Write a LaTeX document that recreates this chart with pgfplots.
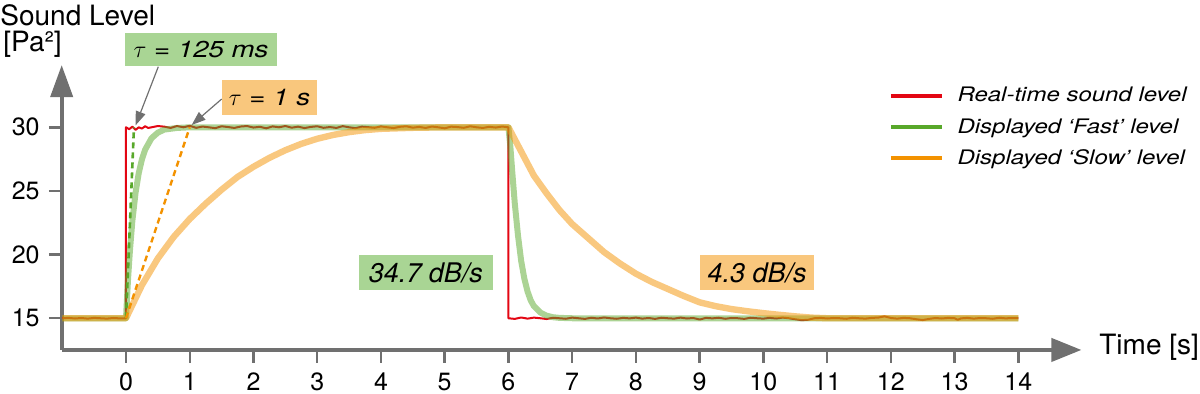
\documentclass[border=0pt]{standalone}
\usepackage{fontspec}
\setmainfont{TeX Gyre Heros}
\newfontfamily\legfont[FakeStretch=1.2]{TeX Gyre Heros}
\usepackage{pgfplots}
\pgfplotsset{compat=1.18}
\usetikzlibrary{arrows.meta}
\definecolor{cred}{RGB}{227,6,19}
\definecolor{cgreen}{RGB}{88,168,42}
\definecolor{corange}{RGB}{243,146,0}
\definecolor{axgray}{RGB}{112,112,112}
\definecolor{boxgreen}{RGB}{169,213,148}
\definecolor{boxorange}{RGB}{249,199,125}
\begin{document}
\begin{tikzpicture}
\begin{axis}[
  x=31.87pt, y=6.365pt,
  xmin=-1.009, xmax=14.99, ymin=12.51, ymax=34.89,
  axis lines=left,
  axis line style={line width=2pt, color=axgray},
  x axis line style={-{Triangle[length=15pt,width=11.5pt]}},
  y axis line style={-{Triangle[length=16pt,width=11pt]}},
  xtick={0,1,2,3,4,5,6,7,8,9,10,11,12,13,14},
  ytick={15,20,25,30},
  tick align=outside,
  major tick length=6.4pt,
  tick style={line width=1.2pt, color=axgray},
  /pgf/number format/assume math mode=true,
  xticklabel style={anchor=base, font=\fontsize{12.5}{15}\selectfont, yshift=-13.9pt},
  yticklabel style={anchor=east, inner sep=0pt, font=\fontsize{12.5}{15}\selectfont, xshift=-4.45pt},
  clip=false,
]
% real-time level
\addplot[cred, line width=1pt, line join=round] coordinates {
(-1.0,15.0) (-0.9,15.03) (-0.8,14.98) (-0.7,15.02) (-0.6,14.97) (-0.5,15.03) (-0.4,15.0) (-0.3,14.97) (-0.2,15.02) (-0.1,14.99) (0.0,15.0)
(0.0,30.0) (0.05,29.85) (0.1,30.05) (0.15,29.8) (0.2,30.0) (0.25,29.9) (0.3,30.08) (0.35,29.95) (0.4,30.0) (0.5,30.1)
(0.6,30.05) (0.7,29.95) (0.8,30.1) (0.9,30.0) (1.0,30.12) (1.1,29.96) (1.2,30.06) (1.3,30.0) (1.4,29.93) (1.5,30.08)
(1.6,30.02) (1.7,29.95) (1.8,30.06) (1.9,30.1) (2.0,29.98) (2.1,30.04) (2.2,29.92) (2.3,30.07) (2.4,30.0) (2.5,30.1)
(2.6,29.97) (2.7,30.05) (2.8,29.94) (2.9,30.03) (3.0,30.08) (3.1,29.96) (3.2,30.02) (3.3,29.95) (3.4,30.09) (3.5,30.0)
(3.6,29.93) (3.7,30.05) (3.8,30.01) (3.9,29.96) (4.0,30.07) (4.1,30.0) (4.2,29.94) (4.3,30.04) (4.4,30.08) (4.5,29.97)
(4.6,30.03) (4.7,29.95) (4.8,30.06) (4.9,30.0) (5.0,29.92) (5.1,30.05) (5.2,30.02) (5.3,29.96) (5.4,30.08) (5.5,30.0)
(5.6,29.95) (5.7,30.04) (5.8,29.98) (5.9,30.06) (6.0,30.0)
(6.0,15.0) (6.1,14.95) (6.2,15.06) (6.3,14.97) (6.4,15.05) (6.5,15.0) (6.6,14.94) (6.7,15.04) (6.8,15.0) (6.9,14.96)
(7.0,15.05) (7.1,15.0) (7.2,14.95) (7.3,15.04) (7.4,14.98) (7.5,15.06) (7.6,15.0) (7.7,14.96) (7.8,15.03) (7.9,14.99)
(8.0,15.05) (8.1,14.97) (8.2,15.02) (8.3,14.95) (8.4,15.04) (8.5,15.0) (8.6,14.97) (8.7,15.05) (8.8,14.98) (8.9,15.02)
(9.0,14.9) (9.1,15.03) (9.2,14.99) (9.3,15.04) (9.4,14.96) (9.5,15.02) (9.6,15.0) (9.7,14.95) (9.8,15.04) (9.9,15.0)
(10.0,14.97) (10.1,15.03) (10.2,14.98) (10.3,15.05) (10.4,15.0) (10.5,14.92) (10.6,14.85) (10.7,14.88) (10.8,15.0) (10.9,15.03)
(11.0,14.98) (11.1,15.02) (11.2,15.0) (11.3,14.96) (11.4,15.04) (11.5,15.0) (11.6,14.97) (11.7,15.03) (11.8,15.05) (11.9,15.15)
(12.0,15.02) (12.1,14.97) (12.2,15.03) (12.3,15.0) (12.4,14.92) (12.5,14.86) (12.6,14.95) (12.7,15.02) (12.8,14.98) (12.9,15.03)
(13.0,15.0) (13.05,14.88) (13.1,14.99) (13.2,15.03) (13.3,14.97) (13.4,15.02) (13.5,15.0) (13.6,14.96) (13.7,15.04) (13.8,14.99)
(13.9,15.02) (14.0,15.0)
};
% fast
\addplot[cgreen, opacity=0.5, line width=3pt, line join=round] coordinates {
(-1,15) (0,15) (0.03,17.9) (0.06,20.2) (0.1,22.65) (0.15,24.86) (0.2,26.4) (0.25,27.48) (0.3,28.24) (0.4,29.14)
(0.5,29.58) (0.6,29.82) (0.8,29.95) (1.0,30) (6.0,30) (6.03,28.5) (6.06,26.5) (6.1,24.0) (6.15,21.5) (6.2,19.5)
(6.25,18.1) (6.3,17.1) (6.35,16.4) (6.4,15.95) (6.5,15.45) (6.6,15.2) (6.7,15.08) (6.8,15.03) (7.0,15.0) (14,15)
};
% slow
\addplot[corange, opacity=0.5, line width=3.2pt, line join=round] coordinates {
(-1,15) (0,15) (0.25,17.6) (0.5,19.7) (0.75,21.4) (1.0,22.8) (1.25,24.0) (1.5,25.1) (1.75,26.1) (2.0,26.9)
(2.25,27.6) (2.5,28.2) (2.75,28.7) (3.0,29.1) (3.25,29.4) (3.5,29.62) (3.75,29.78) (4.0,29.88) (4.5,29.96) (5.0,30.0)
(6.0,30.0) (6.2,28.1) (6.4,26.2) (6.6,24.8) (6.8,23.5) (7.0,22.4) (7.25,21.3) (7.5,20.2) (7.75,19.3) (8.0,18.5)
(8.25,17.85) (8.5,17.3) (8.75,16.75) (9.0,16.25) (9.25,15.95) (9.5,15.72) (9.75,15.55) (10.0,15.4) (10.25,15.27) (10.5,15.15)
(10.75,15.05) (11.0,15.0) (14,15)
};
% tangents
\addplot[cgreen, line width=1.3pt, dash pattern=on 3pt off 2pt] coordinates {(0,15) (0.125,30)};
\addplot[corange, line width=1.2pt, dash pattern=on 3pt off 2pt] coordinates {(0,15) (1,30)};
% annotation arrows
\draw[axgray, line width=0.6pt, -{Triangle[length=7pt,width=5pt]}] (axis cs:0.507,34.76) -- (axis cs:0.15,30.15);
\draw[axgray, line width=0.6pt, -{Triangle[length=7pt,width=5pt]}] (axis cs:1.501,32.22) -- (axis cs:1.03,30.18);
% boxes
\node[fill=boxgreen, minimum width=76pt, minimum height=16.7pt, inner sep=0pt, font=\legfont\fontsize{11.5}{14}\selectfont\itshape] at (axis cs:1.177,36.10) {$\tau$ = 125 ms};
\node[fill=boxorange, minimum width=47.8pt, minimum height=17.5pt, inner sep=0pt, font=\legfont\fontsize{11.5}{14}\selectfont\itshape] at (axis cs:2.251,32.34) {$\tau$ = 1 s};
\node[fill=boxgreen, minimum width=66.8pt, minimum height=17.5pt, inner sep=0pt, font=\fontsize{13.5}{15}\selectfont\itshape] at (axis cs:4.704,18.59) {34.7 dB/s};
\node[fill=boxorange, minimum width=57.2pt, minimum height=17.5pt, inner sep=0pt, font=\fontsize{13.5}{15}\selectfont\itshape] at (axis cs:9.903,18.59) {4.3 dB/s};
% legend
\draw[cred, line width=2pt] (axis cs:12.0,32.48) -- (axis cs:12.8,32.48);
\draw[cgreen, line width=2pt] (axis cs:12.0,30.0) -- (axis cs:12.8,30.0);
\draw[corange, line width=2pt] (axis cs:12.0,27.56) -- (axis cs:12.8,27.56);
\node[anchor=base west, inner sep=0pt, font=\legfont\fontsize{10}{12}\selectfont\itshape] at (axis cs:13.04,32.01) {Real-time sound level};
\node[anchor=base west, inner sep=0pt, font=\legfont\fontsize{10}{12}\selectfont\itshape] at (axis cs:13.04,29.53) {Displayed ‘Fast’ level};
\node[anchor=base west, inner sep=0pt, font=\legfont\fontsize{10}{12}\selectfont\itshape] at (axis cs:13.04,27.09) {Displayed ‘Slow’ level};
% axis titles
\node[anchor=base west, inner sep=0pt, font=\fontsize{14}{16}\selectfont] at (axis cs:-1.977,37.96) {Sound Level};
\node[anchor=base west, inner sep=0pt, font=\fontsize{14}{16}\selectfont] at (axis cs:-1.93,35.92) {[Pa²]};
\node[anchor=base west, inner sep=0pt, font=\fontsize{14}{16}\selectfont] at (axis cs:15.265,12.19) {Time [s]};
\coordinate (BBsw) at (axis cs:-1.9768,9.128);
\coordinate (BBne) at (axis cs:16.850,40.0);
\end{axis}
\pgfresetboundingbox
\path[use as bounding box] (BBsw) rectangle (BBne);
\end{tikzpicture}
\end{document}
